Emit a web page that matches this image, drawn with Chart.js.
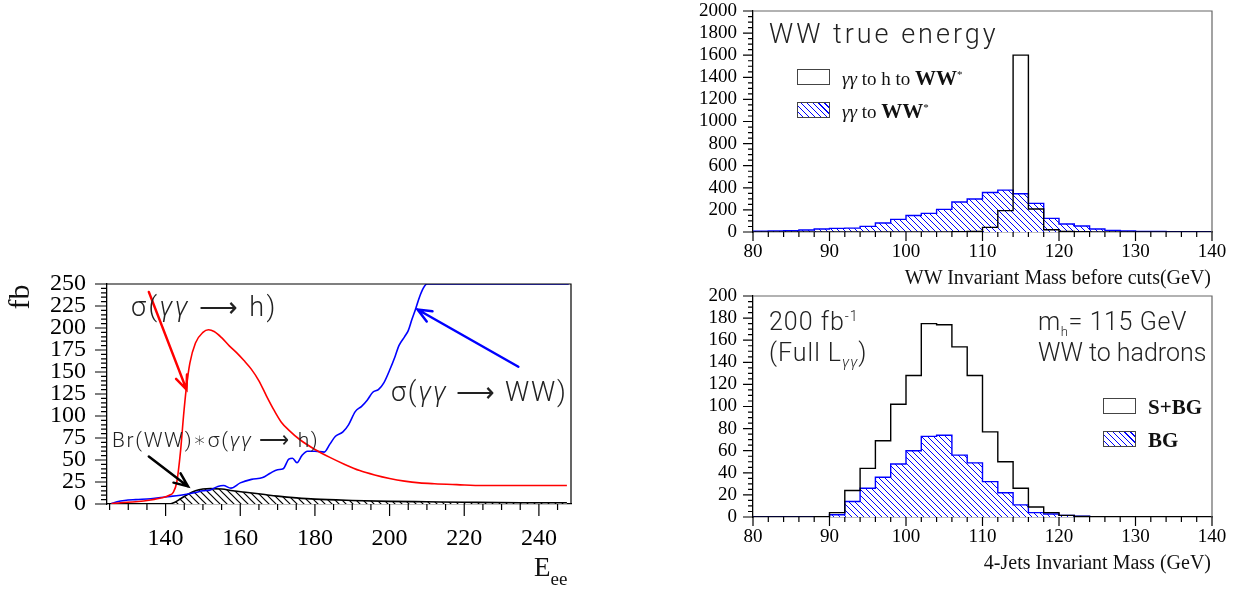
<!DOCTYPE html>
<html>
<head>
<meta charset="utf-8">
<script src="https://cdn.jsdelivr.net/npm/chart.js@4/dist/chart.umd.min.js"></script>
<style>
  html, body { margin: 0; padding: 0; background: #fff; }
  body { width: 1237px; height: 590px; position: relative; overflow: hidden; }
  .box { position: absolute; }
  .t { position: absolute; white-space: nowrap; line-height: 1; }
  .sans { font-family: "Roboto", "DejaVu Sans", sans-serif; font-weight: 300; color: #222; }
  .serif { font-family: "Liberation Serif", serif; color: #111; }
  .leg { position: absolute; width: 31px; height: 14px; border: 1px solid #444; background: #fff; }
  .hatch { background: repeating-linear-gradient(45deg, #fff 0 3px, #00f 3px 4.2px); }
</style>
</head>
<body>
<div class="box" id="left" style="left:0;top:270px;width:600px;height:320px"><canvas id="c1"></canvas></div>
<div class="box" id="tr" style="left:680px;top:0;width:557px;height:290px"><canvas id="c2"></canvas></div>
<div class="box" id="br" style="left:680px;top:285px;width:557px;height:305px"><canvas id="c3"></canvas></div>

<!-- left panel texts -->
<div class="t serif" style="left:6px;top:282px;font-size:30px;transform:rotate(-90deg);transform-origin:center">fb</div>
<div class="t sans" style="left:131px;top:294px;font-size:27px;letter-spacing:2.4px">σ(<i>γγ</i> ⟶ h)</div>
<div class="t sans" style="left:112px;top:430px;font-size:21px;letter-spacing:1.6px">Br(WW)∗σ(<i>γγ</i> ⟶ h)</div>
<div class="t sans" style="left:391px;top:379px;font-size:27px;letter-spacing:1.8px">σ(<i>γγ</i> ⟶ WW)</div>
<div class="t serif" style="left:534px;top:554px;font-size:27px">E<span style="font-size:19px;position:relative;top:9px">ee</span></div>

<!-- top right texts -->
<div class="t sans" style="left:769px;top:21px;font-size:27px;letter-spacing:3px">WW true energy</div>
<div class="leg" style="left:797px;top:69px"></div>
<div class="t serif" style="left:842px;top:68px;font-size:19px"><i>γγ</i> to h to <b style="font-size:21px">WW</b><sup style="font-size:11px">*</sup></div>
<div class="leg hatch" style="left:797px;top:102px"></div>
<div class="t serif" style="left:842px;top:101px;font-size:19px"><i>γγ</i> to <b style="font-size:21px">WW</b><sup style="font-size:11px">*</sup></div>
<div class="t serif" style="right:26px;top:267px;font-size:20px">WW Invariant Mass before cuts(GeV)</div>

<!-- bottom right texts -->
<div class="t sans" style="left:769px;top:309px;font-size:25px;letter-spacing:1px">200 fb<sup style="font-size:14px">-1</sup></div>
<div class="t sans" style="left:769px;top:340px;font-size:25px;letter-spacing:1px">(Full L<sub style="font-size:15px"><i>γγ</i></sub>)</div>
<div class="t sans" style="left:1038px;top:309px;font-size:25px;letter-spacing:0.6px">m<sub style="font-size:13px">h</sub>= 115 GeV</div>
<div class="t sans" style="left:1038px;top:340px;font-size:25px">WW to hadrons</div>
<div class="leg" style="left:1103px;top:398px"></div>
<div class="t serif" style="left:1148px;top:397px;font-size:21px"><b>S+BG</b></div>
<div class="leg hatch" style="left:1103px;top:431px"></div>
<div class="t serif" style="left:1148px;top:430px;font-size:21px"><b>BG</b></div>
<div class="t serif" style="right:26px;top:552px;font-size:20px">4-Jets Invariant Mass (GeV)</div>

<script>
// ===== DATA: left panel (cross sections vs E_ee) =====
const redX = [125.5, 128, 132, 136, 139, 141, 142, 143, 144, 144.8, 145.5, 146.5, 148, 150, 151.5, 153, 155, 157, 159, 161, 163, 165, 167, 169, 171, 173, 176, 180, 184, 188, 192, 196, 200, 204, 208, 212, 218, 225, 235, 247.5];
const redY = [0.5, 1.5, 2.5, 4.5, 7, 10, 13, 25, 60, 100, 130, 160, 183, 195, 198, 196, 189, 180, 172, 163, 153, 140, 123, 107, 93, 84, 73, 62, 53, 45, 38, 33, 29, 26, 24, 23, 22, 21, 21, 21];

const blueX = [125.5, 127, 129, 132, 136, 140, 144, 148, 150, 152, 154, 155.5, 157.5, 160, 163, 166, 168, 170, 171.5, 173, 174, 175.2, 176.5, 178, 180, 182.5, 184, 185.5, 187.5, 189, 190.8, 192.5, 194, 195.5, 197, 198.5, 200, 201.5, 202.5, 204, 205, 206, 207, 208, 209, 210, 248];
const blueY = [0.5, 2.5, 4, 5, 6, 8, 10, 13, 15, 16, 20, 21, 18, 24, 28, 30, 35, 39, 40, 51, 52, 47, 55, 60, 60, 59, 68, 77, 82, 90, 105, 111, 118, 127, 130, 138, 152, 168, 180, 190, 197, 210, 222, 235, 245, 250, 250];

const brX = [125.5, 141, 142.5, 144, 146, 148, 150, 152, 155, 158, 162, 166, 170, 175, 180, 190, 200, 210, 220, 235, 247.5];
const brY = [0, 0, 2, 6, 11, 15, 17, 17.5, 17, 15, 13, 11, 9, 7, 5.5, 4, 3, 2.5, 2, 1.5, 1.5];

const leftXTicks = [140, 160, 180, 200, 220, 240];
const leftYTicks = [0, 25, 50, 75, 100, 125, 150, 175, 200, 225, 250];

// ===== DATA: histograms (2 GeV bins, left edges) =====
const binEdges = [80, 82, 84, 86, 88, 90, 92, 94, 96, 98, 100, 102, 104, 106, 108, 110, 112, 114, 116, 118, 120, 122, 124, 126, 128, 130, 132, 134, 136, 138, 140];

// WW true energy
const sigTrue = [0, 0, 0, 0, 0, 0, 0, 0, 0, 0, 0, 0, 1, 2, 5, 42, 193, 1601, 208, 21, 5, 2, 1, 1, 1, 1, 0, 0, 0, 0];
const bgTrue  = [8, 10, 12, 18, 27, 33, 35, 51, 81, 114, 150, 169, 205, 271, 298, 358, 379, 346, 259, 123, 72, 54, 27, 15, 9, 5, 4, 3, 3, 3];

// 4-jets invariant mass
const sbgJets = [0, 0, 0, 0, 0.3, 4, 24, 44, 69, 102, 128, 175, 174, 154, 128, 77, 50, 26, 9, 4, 1.5, 0.5, 0.3, 0.3, 0.3, 0.3, 0.3, 0.3, 0.3, 0.3];
const bgJets  = [0, 0, 0, 0, 0.3, 2, 14, 26, 36, 48, 60, 73, 74, 56, 49, 32, 22, 11, 4, 2.7, 1.5, 0.8, 0.3, 0.3, 0.3, 0.3, 0.3, 0.3, 0.3, 0.3];

const topXTicks = [80, 90, 100, 110, 120, 130, 140];
const topYTicks = [0, 200, 400, 600, 800, 1000, 1200, 1400, 1600, 1800, 2000];
const botYTicks = [0, 20, 40, 60, 80, 100, 120, 140, 160, 180, 200];

// ===== HELPERS =====
function pts(xs, ys) {
  return xs.map((x, i) => ({ x: x, y: ys[i] }));
}

// histogram: value of bin i held until the next edge
function histPts(values) {
  const out = values.map((v, i) => ({ x: binEdges[i], y: v }));
  out.push({ x: binEdges[binEdges.length - 1], y: values[values.length - 1] });
  return out;
}

// diagonal hatch, built on the chart's own context the first time it is needed
function hatch(color, size, width) {
  let pat = null;
  return function (c) {
    if (pat) return pat;
    const tile = document.createElement("canvas");
    tile.width = size; tile.height = size;
    const g = tile.getContext("2d");
    g.fillStyle = "#ffffff";
    g.fillRect(0, 0, size, size);
    g.strokeStyle = color;
    g.lineWidth = width;
    g.beginPath();
    g.moveTo(-1, -1); g.lineTo(size + 1, size + 1);
    g.moveTo(-1, size - 1); g.lineTo(1, size + 1);
    g.moveTo(size - 1, -1); g.lineTo(size + 1, 1);
    g.stroke();
    pat = c.chart.ctx.createPattern(tile, "repeat");
    return pat;
  };
}

// frame + tick marks drawn outside the axes
const frameTicks = {
  id: "frameTicks",
  afterDraw(chart, args, o) {
    const { ctx, chartArea: a, scales: { x, y } } = chart;
    ctx.save();
    ctx.lineWidth = 1.2;
    ctx.strokeStyle = o.frame;
    ctx.beginPath();
    ctx.moveTo(a.left, a.top); ctx.lineTo(a.right, a.top); ctx.lineTo(a.right, a.bottom);
    ctx.stroke();
    ctx.strokeStyle = "#000";
    ctx.beginPath();
    const nx = Math.round((o.xEnd - o.xStart) / o.xMinor);
    for (let i = 0; i <= nx; i++) {
      const v = o.xStart + i * o.xMinor;
      const px = x.getPixelForValue(v);
      const major = Math.abs(v / o.xMajor - Math.round(v / o.xMajor)) < 1e-6;
      ctx.moveTo(px, a.bottom);
      ctx.lineTo(px, a.bottom + (major ? o.xLong : o.xShort));
    }
    const ny = Math.round((y.max - y.min) / o.yMinor);
    for (let i = 0; i <= ny; i++) {
      const v = y.min + i * o.yMinor;
      const py = y.getPixelForValue(v);
      const major = Math.abs(v / o.yMajor - Math.round(v / o.yMajor)) < 1e-6;
      ctx.moveTo(a.left, py);
      ctx.lineTo(a.left - (major ? o.yLong : o.yShort), py);
    }
    ctx.stroke();
    ctx.restore();
  }
};

// annotation arrows in data coordinates
const arrows = {
  id: "arrows",
  afterDatasetsDraw(chart, args, o) {
    if (!o.list) return;
    const { ctx, scales: { x, y } } = chart;
    ctx.save();
    o.list.forEach(ar => {
      const x0 = x.getPixelForValue(ar.from[0]), y0 = y.getPixelForValue(ar.from[1]);
      const x1 = x.getPixelForValue(ar.to[0]), y1 = y.getPixelForValue(ar.to[1]);
      const ang = Math.atan2(y1 - y0, x1 - x0);
      ctx.strokeStyle = ar.color;
      ctx.lineWidth = 2.5;
      ctx.lineCap = "round";
      ctx.beginPath();
      ctx.moveTo(x0, y0); ctx.lineTo(x1, y1);
      ctx.moveTo(x1 - 15 * Math.cos(ang - 0.4), y1 - 15 * Math.sin(ang - 0.4));
      ctx.lineTo(x1, y1);
      ctx.lineTo(x1 - 15 * Math.cos(ang + 0.4), y1 - 15 * Math.sin(ang + 0.4));
      ctx.stroke();
    });
    ctx.restore();
  }
};

function axes(xmin, xmax, xticks, ymin, ymax, yticks, yw, xh, fs, ypad, xpad) {
  const font = { family: "Liberation Serif", size: fs };
  const plain = v => String(v);
  return {
    x: {
      type: "linear", min: xmin, max: xmax,
      grid: { display: false, drawTicks: false },
      border: { color: "#000", width: 1.3 },
      ticks: { font: font, color: "#000", padding: xpad, maxRotation: 0, autoSkip: false, callback: plain },
      afterBuildTicks: s => { s.ticks = xticks.map(v => ({ value: v })); },
      afterFit: s => { s.height = xh; s.paddingLeft = 0; s.paddingRight = 0; }
    },
    y: {
      type: "linear", min: ymin, max: ymax,
      grid: { display: false, drawTicks: false },
      border: { color: "#000", width: 1.3 },
      ticks: { font: font, color: "#000", padding: ypad, autoSkip: false, callback: plain },
      afterBuildTicks: s => { s.ticks = yticks.map(v => ({ value: v })); },
      afterFit: s => { s.width = yw; s.paddingTop = 0; s.paddingBottom = 0; }
    }
  };
}

function baseOptions() {
  return {
    responsive: true,
    maintainAspectRatio: false,
    animation: false,
    events: [],
    elements: { point: { radius: 0 } }
  };
}

// ===== LEFT CHART =====
new Chart(document.getElementById("c1"), {
  type: "line",
  data: {
    datasets: [
      { data: pts(redX, redY), borderColor: "#ff0000", borderWidth: 1.6, cubicInterpolationMode: "monotone", fill: false },
      { data: pts(blueX, blueY), borderColor: "#0000ff", borderWidth: 1.6, cubicInterpolationMode: "monotone", fill: false },
      { data: pts(brX, brY), borderColor: "#000000", borderWidth: 1.6, cubicInterpolationMode: "monotone", fill: "origin", backgroundColor: hatch("#000000", 7, 1.2) }
    ]
  },
  options: Object.assign(baseOptions(), {
    layout: { padding: { top: 14, right: 29, left: 0, bottom: 0 } },
    scales: axes(124.3, 248.6, leftXTicks, 0, 250, leftYTicks, 107, 86, 24, 21, 20),
    plugins: {
      legend: { display: false }, tooltip: { enabled: false },
      frameTicks: { frame: "#000", xStart: 125, xEnd: 245, xMinor: 5, xMajor: 20, xLong: 12, xShort: 6, yMinor: 5, yMajor: 25, yLong: 12, yShort: 6 },
      arrows: { list: [
        { from: [135.5, 241], to: [145.6, 130], color: "#ff0000" },
        { from: [135.5, 54], to: [146, 20], color: "#000" },
        { from: [234.5, 156], to: [207.5, 221], color: "#0000ff" }
      ] }
    }
  }),
  plugins: [frameTicks, arrows]
});

// ===== HISTOGRAMS =====
function histChart(id, sig, bg, ymax, yticks, yMinor, yMajor, xh) {
  new Chart(document.getElementById(id), {
    type: "line",
    data: {
      datasets: [
        { data: histPts(sig), borderColor: "#000000", borderWidth: 1.4, stepped: "before", fill: false },
        { data: histPts(bg), borderColor: "#0000ff", borderWidth: 1.4, stepped: "before", fill: "origin", backgroundColor: hatch("#0000ff", 6, 1) }
      ]
    },
    options: Object.assign(baseOptions(), {
      layout: { padding: { top: 11, right: 25, left: 0, bottom: 0 } },
      scales: axes(80, 140, topXTicks, 0, ymax, yticks, 73, xh, 19, 16, 9),
      plugins: {
        legend: { display: false }, tooltip: { enabled: false },
        frameTicks: { frame: "#666", xStart: 80, xEnd: 140, xMinor: 2, xMajor: 10, xLong: 9, xShort: 5, yMinor: yMinor, yMajor: yMajor, yLong: 10, yShort: 5 }
      }
    }),
    plugins: [frameTicks]
  });
}

histChart("c2", sigTrue, bgTrue, 2000, topYTicks, 50, 200, 58);
histChart("c3", sbgJets, bgJets, 200, botYTicks, 5, 20, 73);
</script>
</body>
</html>
